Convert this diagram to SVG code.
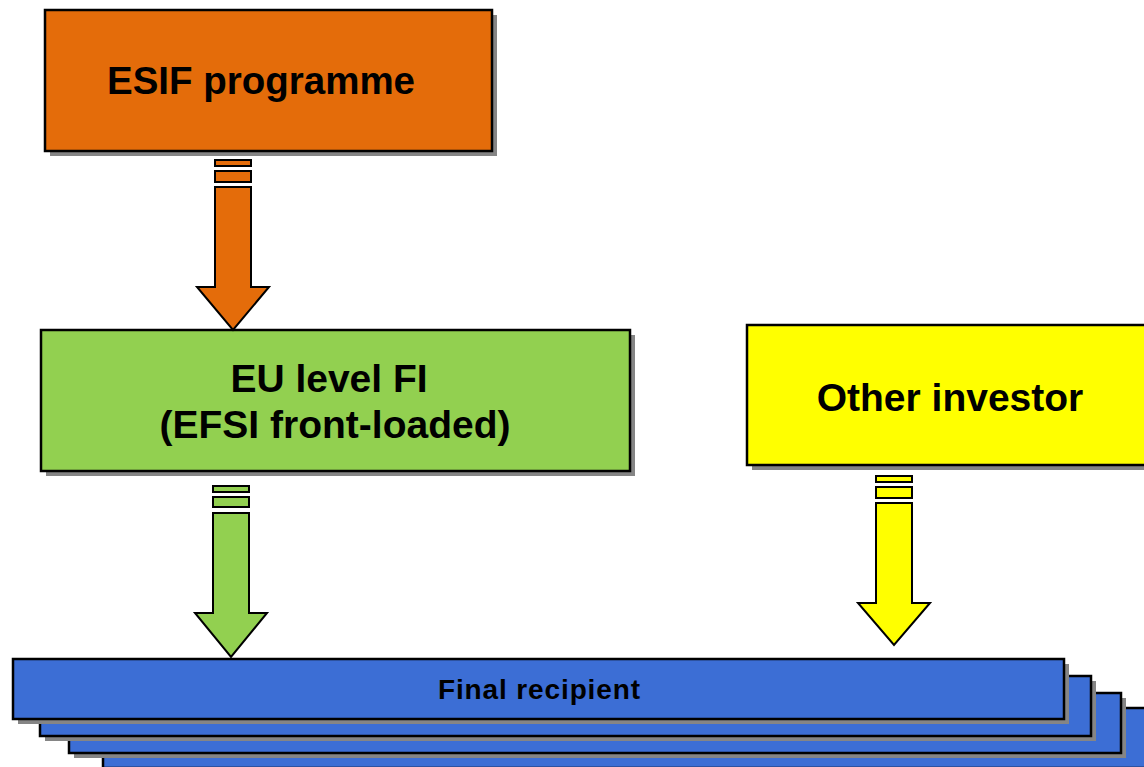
<svg xmlns="http://www.w3.org/2000/svg" width="1144" height="767" viewBox="0 0 1144 767">
  <style>
    .box { stroke: #000; stroke-width: 2.5; }
    .shadow { fill: #858585; }
    .arr { stroke: #000; stroke-width: 2; stroke-linejoin: miter; }
    .lbl { font-family: "Liberation Sans", Arial, sans-serif; font-weight: bold; fill: #000; text-anchor: middle; }
    .orange { fill: #E46C0A; }
    .green { fill: #92D050; }
    .yellow { fill: #FFFF00; }
    .blue { fill: #3C6ED5; }
  </style>
  <rect width="1144" height="767" fill="#fff"/>

  <g id="esif">
    <rect class="shadow" x="50" y="15" width="447" height="141"/>
    <rect class="box orange" x="45" y="10" width="447" height="141"/>
    <text class="lbl" x="261" y="94" font-size="38.5">ESIF programme</text>
  </g>

  <g id="eu-fi">
    <rect class="shadow" x="46" y="335" width="589" height="141"/>
    <rect class="box green" x="41" y="330" width="589" height="141"/>
    <text class="lbl" x="329" y="392" font-size="39">EU level FI</text>
    <text class="lbl" x="335" y="438" font-size="39">(EFSI front-loaded)</text>
  </g>

  <g id="other-investor">
    <rect class="shadow" x="752" y="330" width="410" height="140"/>
    <rect class="box yellow" x="747" y="325" width="410" height="140"/>
    <text class="lbl" x="950" y="411" font-size="39">Other investor</text>
  </g>

  <g id="final-recipient">
    <rect class="shadow" x="108" y="713" width="1051" height="60"/>
    <rect class="box blue" x="103" y="708" width="1051" height="60"/>
    <rect class="shadow" x="74" y="698" width="1052" height="60"/>
    <rect class="box blue" x="69" y="693" width="1052" height="60"/>
    <rect class="shadow" x="45" y="681" width="1051" height="60"/>
    <rect class="box blue" x="40" y="676" width="1051" height="60"/>
    <rect class="shadow" x="18" y="664" width="1051" height="60"/>
    <rect class="box blue" x="13" y="659" width="1051" height="60"/>
    <text class="lbl" x="539" y="699" font-size="28" textLength="202" lengthAdjust="spacing">Final recipient</text>
  </g>

  <g id="connectors">
    <g id="arrow-esif-eu">
      <rect class="arr orange" x="215" y="160" width="36" height="6"/>
      <rect class="arr orange" x="215" y="171" width="36" height="11"/>
      <path class="arr orange" d="M215,187 H251 V287 H269 L233,330 L197,287 H215 Z"/>
    </g>
    <g id="arrow-eu-final">
      <rect class="arr green" x="213" y="486" width="36" height="6"/>
      <rect class="arr green" x="213" y="497" width="36" height="10"/>
      <path class="arr green" d="M213,513 H249 V613 H267 L231,657 L195,613 H213 Z"/>
    </g>
    <g id="arrow-other-final">
      <rect class="arr yellow" x="876" y="476" width="36" height="6"/>
      <rect class="arr yellow" x="876" y="487" width="36" height="11"/>
      <path class="arr yellow" d="M876,503 H912 V603 H930 L894,645 L858,603 H876 Z"/>
    </g>
  </g>
</svg>
